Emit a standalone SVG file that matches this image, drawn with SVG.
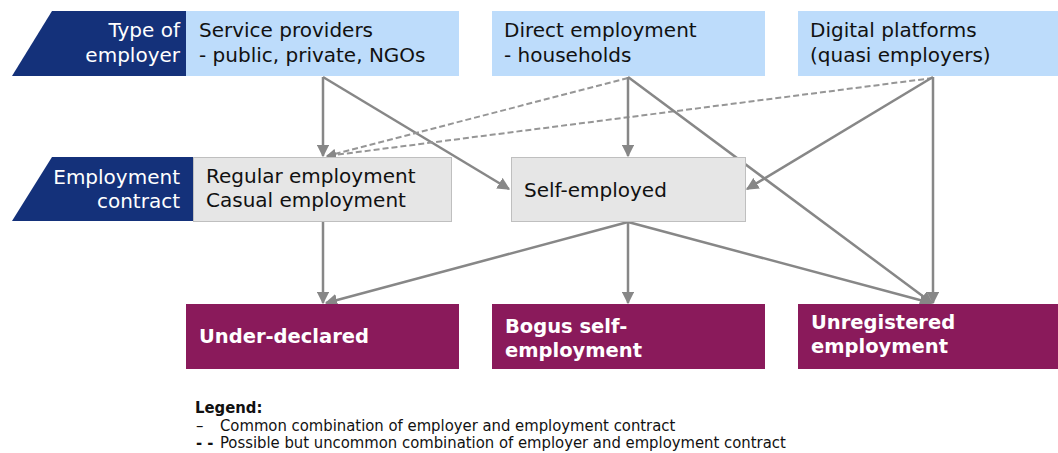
<svg xmlns="http://www.w3.org/2000/svg" width="1058" height="453" viewBox="0 0 1058 453">
<style>
.hdr{fill:#14317a}
.emp{fill:#bddcfb}
.con{fill:#e6e6e6;stroke:#bfbfbf;stroke-width:1}
.out{fill:#8a1a5b}
.t{font-family:"DejaVu Sans",Verdana,sans-serif;font-size:20px;fill:#111}
.w{font-family:"DejaVu Sans",Verdana,sans-serif;font-size:20px;fill:#fff;text-anchor:end}
.b{font-family:"DejaVu Sans",Verdana,sans-serif;font-size:19.5px;font-weight:bold;fill:#fff}
.lg{font-family:"DejaVu Sans Condensed","DejaVu Sans",sans-serif;font-size:16.5px;fill:#111}
.ln{stroke:#878787;stroke-width:2.5;fill:none;marker-end:url(#ah)}
.dl{stroke:#969696;stroke-width:2;fill:none;stroke-dasharray:6 3;marker-end:url(#ah)}
</style>
<defs>
<marker id="ah" viewBox="0 0 10 10" refX="9" refY="5" markerWidth="5" markerHeight="5" orient="auto" markerUnits="strokeWidth">
<path d="M0,0 L10,5 L0,10 z" fill="#878787"/>
</marker>
</defs>
<rect width="1058" height="453" fill="#fff"/>
<g id="connectors">
<line class="ln" x1="323" y1="77" x2="323" y2="156"/>
<line class="ln" x1="323" y1="77" x2="509" y2="189"/>
<line class="dl" x1="628" y1="78" x2="327" y2="156"/>
<line class="dl" x1="933" y1="78" x2="327" y2="156"/>
<line class="ln" x1="628" y1="77" x2="628" y2="156"/>
<line class="ln" x1="628" y1="77" x2="932" y2="303"/>
<line class="ln" x1="933" y1="77" x2="747" y2="189"/>
<line class="ln" x1="933" y1="77" x2="933" y2="303"/>
<line class="ln" x1="323" y1="222" x2="323" y2="303"/>
<line class="ln" x1="628" y1="222" x2="326" y2="303"/>
<line class="ln" x1="628" y1="222" x2="628" y2="303"/>
<line class="ln" x1="628" y1="222" x2="931" y2="303"/>
</g>
<g id="hdr-employer">
<path class="hdr" d="M52,11 H187 V76 H12 Z"/>
<text class="w" x="180" y="37">Type of</text>
<text class="w" x="180" y="62">employer</text>
</g>
<g id="hdr-contract">
<path class="hdr" d="M52,157 H194 V221 H12 Z"/>
<text class="w" x="180" y="184">Employment</text>
<text class="w" x="180" y="208">contract</text>
</g>
<g id="service-providers">
<rect class="emp" x="186" y="11" width="273" height="65"/>
<text class="t" x="199" y="37">Service providers</text>
<text class="t" x="199" y="62">- public, private, NGOs</text>
</g>
<g id="direct-employment">
<rect class="emp" x="492" y="11" width="273" height="65"/>
<text class="t" x="504" y="37">Direct employment</text>
<text class="t" x="504" y="62">- households</text>
</g>
<g id="digital-platforms">
<rect class="emp" x="798" y="11" width="260" height="65"/>
<text class="t" x="810" y="37">Digital platforms</text>
<text class="t" x="810" y="62">(quasi employers)</text>
</g>
<g id="regular-casual">
<rect class="con" x="193.5" y="157.5" width="258" height="64"/>
<text class="t" x="206" y="183">Regular employment</text>
<text class="t" x="206" y="207">Casual employment</text>
</g>
<g id="self-employed">
<rect class="con" x="511.5" y="157.5" width="234" height="64"/>
<text class="t" x="524" y="197">Self-employed</text>
</g>
<g id="under-declared">
<rect class="out" x="186" y="304" width="273" height="65"/>
<text class="b" x="199" y="343">Under-declared</text>
</g>
<g id="bogus">
<rect class="out" x="492" y="304" width="273" height="65"/>
<text class="b" x="505" y="333">Bogus self-</text>
<text class="b" x="505" y="357">employment</text>
</g>
<g id="unregistered">
<rect class="out" x="798" y="304" width="260" height="65"/>
<text class="b" x="811" y="329">Unregistered</text>
<text class="b" x="811" y="353">employment</text>
</g>
<g id="legend">
<text class="lg" x="195" y="413" font-weight="bold">Legend:</text>
<text class="lg" x="196" y="431">–</text>
<text class="lg" x="220" y="431">Common combination of employer and employment contract</text>
<text class="lg" x="196" y="448" font-weight="bold">- -</text>
<text class="lg" x="220" y="448">Possible but uncommon combination of employer and employment contract</text>
</g>
</svg>
